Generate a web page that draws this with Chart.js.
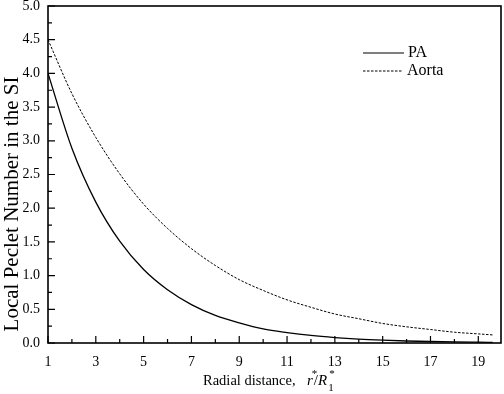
<!DOCTYPE html>
<html><head><meta charset="utf-8">
<script src="https://cdn.jsdelivr.net/npm/chart.js@4/dist/chart.umd.min.js"></script>
<style>html,body{margin:0;padding:0;background:#fff}#wrap{width:504px;height:394px}</style>
</head><body><div id="wrap"><canvas id="c" width="504" height="394"></canvas></div>
<script>
const xValues = [1,2,3,4,5,6,7,8,9,10,11,12,13,14,15,16,17,18,19,19.6];
const paValues = [4.00,2.89,2.09,1.51,1.09,0.79,0.57,0.41,0.30,0.21,0.155,0.112,0.081,0.058,0.042,0.030,0.022,0.016,0.012,0.010];
const aortaValues = [4.50,3.70,3.05,2.51,2.06,1.70,1.40,1.15,0.94,0.78,0.64,0.53,0.43,0.36,0.29,0.24,0.20,0.16,0.135,0.12];
const xTickLabels = [1,3,5,7,9,11,13,15,17,19];
const xMinorTicks = [2,4,6,8,10,12,14,16,18];
const yTickLabels = [0,0.5,1,1.5,2,2.5,3,3.5,4,4.5,5];
const yMinorTicks = [0.25,0.75,1.25,1.75,2.25,2.75,3.25,3.75,4.25,4.75];
const seriesNames = ['PA','Aorta'];

const FONT = '"Liberation Serif", "Times New Roman", serif';

const decor = {
  id:'decor',
  afterDraw(chart){
    const ctx = chart.ctx, a = chart.chartArea, xs = chart.scales.x, ys = chart.scales.y;
    ctx.save();
    ctx.strokeStyle = '#000';
    ctx.lineWidth = 1.6;
    ctx.strokeRect(a.left, a.top, a.right - a.left, a.bottom - a.top);
    ctx.lineWidth = 1.2;
    ctx.beginPath();
    xTickLabels.forEach(v=>{const p=xs.getPixelForValue(v); ctx.moveTo(p,a.bottom); ctx.lineTo(p,a.bottom-7);});
    xMinorTicks.forEach(v=>{const p=xs.getPixelForValue(v); ctx.moveTo(p,a.bottom); ctx.lineTo(p,a.bottom-4);});
    yTickLabels.forEach(v=>{const p=ys.getPixelForValue(v); ctx.moveTo(a.left,p); ctx.lineTo(a.left+7,p);});
    yMinorTicks.forEach(v=>{const p=ys.getPixelForValue(v); ctx.moveTo(a.left,p); ctx.lineTo(a.left+4,p);});
    ctx.stroke();
    // legend
    ctx.fillStyle = '#000';
    ctx.font = '16px ' + FONT;
    ctx.textBaseline = 'middle';
    ctx.lineWidth = 1.2;
    ctx.setLineDash([]);
    ctx.beginPath(); ctx.moveTo(363,53); ctx.lineTo(404,53); ctx.stroke();
    ctx.fillText(seriesNames[0], 408, 53);
    ctx.lineWidth = 1;
    ctx.setLineDash([2.5,1.5]);
    ctx.beginPath(); ctx.moveTo(363,71); ctx.lineTo(403,71); ctx.stroke();
    ctx.setLineDash([]);
    ctx.fillText(seriesNames[1], 407, 71);
    // x title
    ctx.textBaseline = 'alphabetic';
    ctx.font = '14.5px ' + FONT;
    ctx.fillText('Radial distance,', 203, 385);
    ctx.font = 'italic 15px ' + FONT;
    let x = 307;
    ctx.fillText('r', x, 385); x += ctx.measureText('r').width;
    ctx.font = '11px ' + FONT;
    ctx.fillText('*', x-1, 377);
    ctx.font = '15px ' + FONT;
    ctx.fillText('/', x+1, 385); x += ctx.measureText('/').width + 1;
    ctx.font = 'italic 15px ' + FONT;
    ctx.fillText('R', x, 385); const rw = ctx.measureText('R').width;
    ctx.font = '11px ' + FONT;
    ctx.fillText('*', x+rw+2, 377);
    ctx.fillText('1', x+rw+1, 391);
    // y title
    ctx.save();
    ctx.translate(12, 204);
    ctx.rotate(-Math.PI/2);
    ctx.font = '21px ' + FONT;
    ctx.textAlign = 'center';
    ctx.textBaseline = 'middle';
    ctx.fillText('Local Peclet Number in the SI', 0, 0);
    ctx.restore();
    ctx.restore();
  }
};

new Chart(document.getElementById('c'), {
  type:'line',
  data:{
    labels:xValues,
    datasets:[
      {label:seriesNames[0], data:xValues.map((x,i)=>({x, y:paValues[i]})), borderColor:'#000', borderWidth:1.3, pointRadius:0, cubicInterpolationMode:'monotone', fill:false},
      {label:seriesNames[1], data:xValues.map((x,i)=>({x, y:aortaValues[i]})), borderColor:'#000', borderWidth:1, borderDash:[2.5,1.5], pointRadius:0, cubicInterpolationMode:'monotone', fill:false}
    ]
  },
  options:{
    responsive:false, animation:false,
    layout:{padding:{top:6,right:3,left:0,bottom:0}},
    plugins:{legend:{display:false}, tooltip:{enabled:false}},
    scales:{
      x:{type:'linear', min:1, max:19.95,
        afterBuildTicks(s){ s.ticks = xTickLabels.map(v=>({value:v})); },
        afterFit(s){ s.height = 51; s.paddingLeft = 0; s.paddingRight = 0; },
        grid:{display:false, drawTicks:false}, border:{display:false},
        ticks:{color:'#000', font:{family:FONT, size:14}, padding:11, maxRotation:0, autoSkip:false, callback:v=>String(v)}},
      y:{type:'linear', min:0, max:5,
        afterBuildTicks(s){ s.ticks = yTickLabels.map(v=>({value:v})); },
        afterFit(s){ s.width = 48; s.paddingTop = 0; s.paddingBottom = 0; },
        grid:{display:false, drawTicks:false}, border:{display:false},
        ticks:{color:'#000', font:{family:FONT, size:14}, padding:8, callback:v=>v.toFixed(1)}}
    }
  },
  plugins:[decor]
});
</script></body></html>
